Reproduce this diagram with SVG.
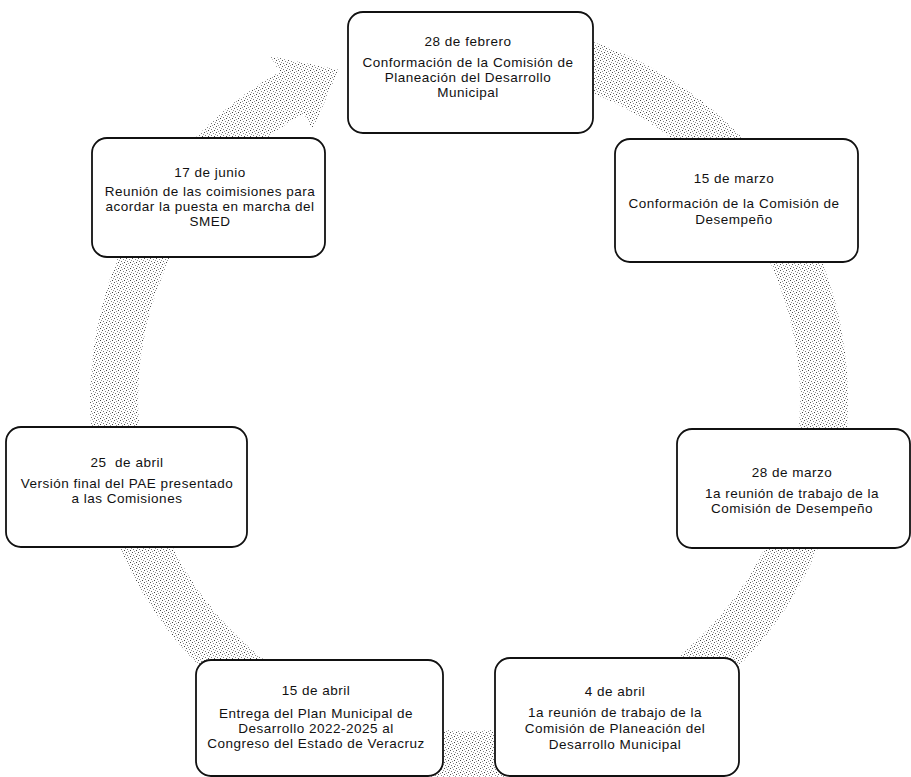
<svg xmlns="http://www.w3.org/2000/svg" width="911" height="777" viewBox="0 0 911 777">
<defs>
<pattern id="stip" width="6" height="6" patternUnits="userSpaceOnUse">
<rect width="6" height="6" fill="#ffffff"/>
<rect x="0" y="0" width="1" height="1" fill="#555"/>
<rect x="3" y="1" width="1" height="1" fill="#888"/>
<rect x="1" y="3" width="1" height="1" fill="#777"/>
<rect x="4" y="4" width="1" height="1" fill="#444"/>
<rect x="5" y="2" width="1" height="1" fill="#999"/>
<rect x="2" y="5" width="1" height="1" fill="#999"/>
</pattern>
<style>
.box{fill:#fff;stroke:#111;stroke-width:1.8}
.t{font-family:"Liberation Sans",Arial,sans-serif;font-size:13.5px;letter-spacing:0.5px;fill:#111;text-anchor:middle;white-space:pre}
.ring{fill:url(#stip);stroke:none}
</style>
</defs>
<rect width="911" height="777" fill="#fff"/>
<g id="connectors">
<path class="ring" d="M 469,21 A 379 379 0 1 1 279.5,71.8 L 270.5,56.2 L 338.9,69.7 L 312.5,128.9 L 303.5,113.4 A 331 331 0 1 0 469,69 Z"/>
</g>
<g id="n1">
<rect class="box" x="348" y="12" width="245" height="121" rx="15"/>
<text class="t" x="468" y="46">28 de febrero</text>
<text class="t" x="468" y="67">Conformación de la Comisión de</text>
<text class="t" x="468" y="82">Planeación del Desarrollo</text>
<text class="t" x="468" y="97">Municipal</text>
</g>
<g id="n2">
<rect class="box" x="615" y="139" width="243" height="123" rx="15"/>
<text class="t" x="734" y="183">15 de marzo</text>
<text class="t" x="734" y="208">Conformación de la Comisión de</text>
<text class="t" x="734" y="224">Desempeño</text>
</g>
<g id="n3">
<rect class="box" x="677" y="429" width="233" height="119" rx="15"/>
<text class="t" x="792" y="477">28 de marzo</text>
<text class="t" x="792" y="498">1a reunión de trabajo de la</text>
<text class="t" x="792" y="513">Comisión de Desempeño</text>
</g>
<g id="n4">
<rect class="box" x="495" y="658" width="244" height="118" rx="15"/>
<text class="t" x="615" y="696">4 de abril</text>
<text class="t" x="615" y="717">1a reunión de trabajo de la</text>
<text class="t" x="615" y="733">Comisión de Planeación del</text>
<text class="t" x="615" y="749">Desarrollo Municipal</text>
</g>
<g id="n5">
<rect class="box" x="196" y="660" width="247" height="116" rx="15"/>
<text class="t" x="316" y="695">15 de abril</text>
<text class="t" x="316" y="718">Entrega del Plan Municipal de</text>
<text class="t" x="316" y="733">Desarrollo 2022-2025 al</text>
<text class="t" x="316" y="748">Congreso del Estado de Veracruz</text>
</g>
<g id="n6">
<rect class="box" x="6" y="427" width="241" height="120" rx="15"/>
<text class="t" x="127" y="467">25  de abril</text>
<text class="t" x="127" y="488">Versión final del PAE presentado</text>
<text class="t" x="127" y="503">a las Comisiones</text>
</g>
<g id="n7">
<rect class="box" x="92" y="138" width="233" height="119" rx="15"/>
<text class="t" x="210" y="177">17 de junio</text>
<text class="t" x="210" y="196">Reunión de las coimisiones para</text>
<text class="t" x="210" y="211">acordar la puesta en marcha del</text>
<text class="t" x="210" y="226">SMED</text>
</g>
</svg>
